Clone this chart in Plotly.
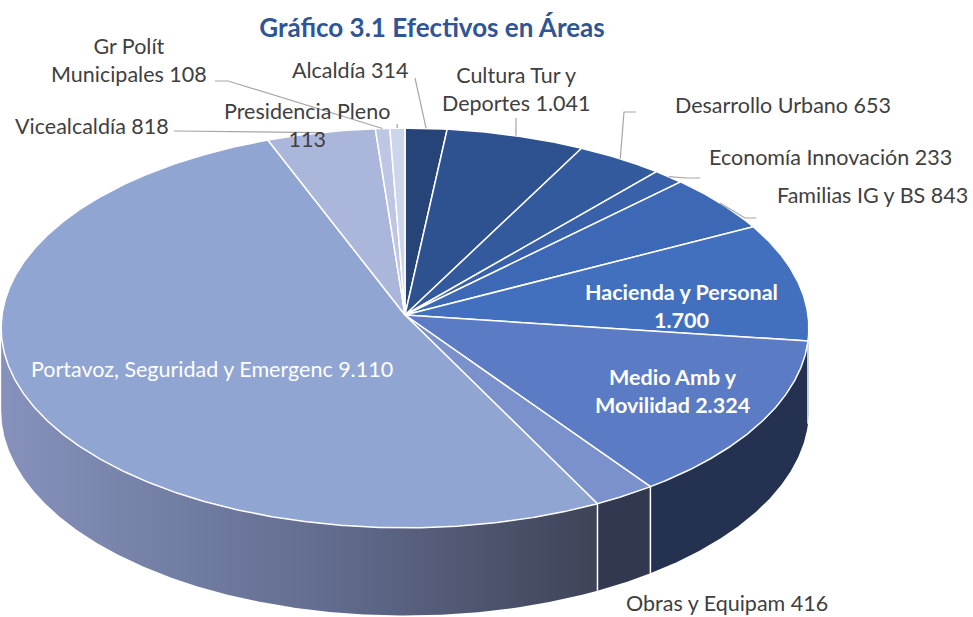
import math
import numpy as np
import plotly.graph_objects as go

# ---------------- data ----------------
areas = [
    "Alcaldía", "Cultura Tur y Deportes", "Desarrollo Urbano", "Economía Innovación",
    "Familias IG y BS", "Hacienda y Personal", "Medio Amb y Movilidad", "Obras y Equipam",
    "Portavoz, Seguridad y Emergenc", "Vicealcaldía", "Gr Polít Municipales", "Presidencia Pleno",
]
efectivos = [314, 1041, 653, 233, 843, 1700, 2324, 416, 9110, 818, 108, 113]
# label wording as printed on the chart (line breaks where the chart wraps)
label_names = [
    "Alcaldía", "Cultura Tur y<br>Deportes", "Desarrollo Urbano", "Economía Innovación",
    "Familias IG y BS", "Hacienda y Personal<br>", "Medio Amb y<br>Movilidad", "Obras y Equipam",
    "Portavoz, Seguridad y Emergenc", "Vicealcaldía", "Gr Polít<br>Municipales", "Presidencia Pleno<br>",
]
title_text = "Gráfico 3.1 Efectivos en Áreas"

# ---------------- style ----------------
W, H = 973, 617
CX, CY, A, B = 405, 315, 403, 199      # pie centre and radii in pixels
P = 0.065                               # perspective strength
DEPTH = 82 / B                          # wall height in y data units

top_colors = ["#264478", "#2E5190", "#345A9E", "#3861AA", "#3C68B6", "#4270BF",
              "#5B7BC4", "#7B91CC", "#91A5D3", "#AAB7DB", "#BDC7E4", "#CDD5EA"]
wall_colors = ["#1A2E52", "#1F3762", "#233D6B", "#264274", "#29477C", "#1F3764",
               "#243150", "#32384F", None, "#55607F", "#606A85", "#6A738C"]
wall_gradient = [[0, "#8692BC"], [0.55, "#626C8E"], [1, "#3E4357"]]

GREY = "#404040"
label_style = [
    dict(px=(350, 70), color=GREY, leader=[(415, 78)]),
    dict(px=(516, 89), color=GREY, leader=[(516, 118)]),
    dict(px=(783, 105), color=GREY, leader=[(636, 112), (624, 112)]),
    dict(px=(830, 157), color=GREY, leader=[(700, 178), (686, 178)]),
    dict(px=(872, 195), color=GREY, leader=[(756, 218), (745, 218)]),
    dict(px=(681, 306), color="white", bold=True, leader=None),
    dict(px=(672, 391), color="white", bold=True, leader=None),
    dict(px=(727, 603), color=GREY, leader=None),
    dict(px=(212, 369), color="white", leader=None),
    dict(px=(92, 126), color=GREY, leader=[(174, 131)]),
    dict(px=(129, 60), color=GREY, leader=[(215, 81), (228, 81)]),
    dict(px=(307, 125), color=GREY, leader=[(397, 124)]),
]
FONT = "Lato"
LABEL_SIZE = 21.5


def proj(theta, drop=0.0):
    """Project a point on the unit pie rim (angle clockwise from 12 o'clock)."""
    u = np.sin(theta)
    v = np.cos(theta)
    w = 1 + P * v
    return u / w, v / w - drop / w


def px_to_data(px, py):
    return (px - CX) / A, (CY - py) / B


def fmt(v):
    return f"{v:,}".replace(",", ".")


total = float(sum(efectivos))
bounds = np.concatenate([[0.0], np.cumsum(efectivos)]) / total * 2 * math.pi

fig = go.Figure()

# ---- side walls (front half only) ----
lo = math.pi / 2 + math.asin(P)
hi = 3 * math.pi / 2 - math.asin(P)
for i, val in enumerate(efectivos):
    s, e = bounds[i], bounds[i + 1]
    a, b = max(s, lo), min(e, hi)
    if b <= a:
        continue
    t = np.linspace(a, b, max(3, int((b - a) / 0.005)))
    xt, yt = proj(t)
    xb, yb = proj(t[::-1], DEPTH)
    xs = np.concatenate([xt, xb, xt[:1]])
    ys = np.concatenate([yt, yb, yt[:1]])
    kw = dict(fillcolor=wall_colors[i]) if wall_colors[i] else dict(
        fillgradient=dict(type="horizontal", colorscale=wall_gradient))
    fig.add_trace(go.Scatter(x=xs, y=ys, mode="lines", fill="toself",
                             line=dict(width=0), hoverinfo="skip",
                             showlegend=False, **kw))

# white edges between wall segments
vx, vy = [], []
for bnd in bounds[1:-1]:
    if lo < bnd < hi:
        x0, y0 = proj(bnd)
        x1, y1 = proj(bnd, DEPTH)
        vx += [x0, x1, None]
        vy += [y0, y1, None]
fig.add_trace(go.Scatter(x=vx, y=vy, mode="lines", line=dict(color="white", width=1.5),
                         hoverinfo="skip", showlegend=False))

# ---- top faces ----
for i, val in enumerate(efectivos):
    s, e = bounds[i], bounds[i + 1]
    t = np.linspace(s, e, max(3, int((e - s) / 0.005)))
    xt, yt = proj(t)
    xs = np.concatenate([[0.0], xt, [0.0]])
    ys = np.concatenate([[0.0], yt, [0.0]])
    fig.add_trace(go.Scatter(x=xs, y=ys, mode="lines", fill="toself",
                             fillcolor=top_colors[i],
                             line=dict(color="white", width=1.5),
                             name=areas[i], hoverinfo="name+text",
                             text=fmt(val), showlegend=False))

# ---- leader lines and labels ----
annotations = []
for i, val in enumerate(efectivos):
    st = label_style[i]
    if st["leader"]:
        mid = (bounds[i] + bounds[i + 1]) / 2
        mx, my = proj(mid)
        pts = [px_to_data(*p) for p in st["leader"]]
        lx = [p[0] for p in pts] + [mx]
        ly = [p[1] for p in pts] + [my]
        fig.add_trace(go.Scatter(x=lx, y=ly, mode="lines",
                                 line=dict(color="#A6A6A6", width=1.2),
                                 hoverinfo="skip", showlegend=False))
    name = label_names[i]
    sep = "" if name.endswith("<br>") else " "
    txt = f"{name}{sep}{fmt(val)}"
    if st.get("bold"):
        txt = "<b>" + txt.replace("<br>", "</b><br><b>") + "</b>"
    px, py = st["px"]
    annotations.append(dict(
        text=txt, x=px / W, y=1 - py / H, xref="paper", yref="paper",
        showarrow=False, align="center", xanchor="center", yanchor="middle",
        font=dict(family=FONT, size=LABEL_SIZE, color=st["color"]),
    ))

fig.update_layout(
    width=W, height=H, autosize=False,
    margin=dict(l=0, r=0, t=0, b=0),
    paper_bgcolor="white", plot_bgcolor="white",
    xaxis=dict(visible=False, range=[-CX / A, (W - CX) / A], fixedrange=True),
    yaxis=dict(visible=False, range=[-(H - CY) / B, CY / B], fixedrange=True),
    title=dict(text=f"<b>{title_text}</b>", x=432 / W, y=1 - 28 / H,
               xanchor="center", yanchor="middle",
               font=dict(family=FONT, size=26, color="#2F5597")),
    annotations=annotations,
)

fig.write_html(
    "out.html",
    config={"displayModeBar": False},
    post_script="document.body.style.margin='0';document.body.style.overflow='hidden';",
)
